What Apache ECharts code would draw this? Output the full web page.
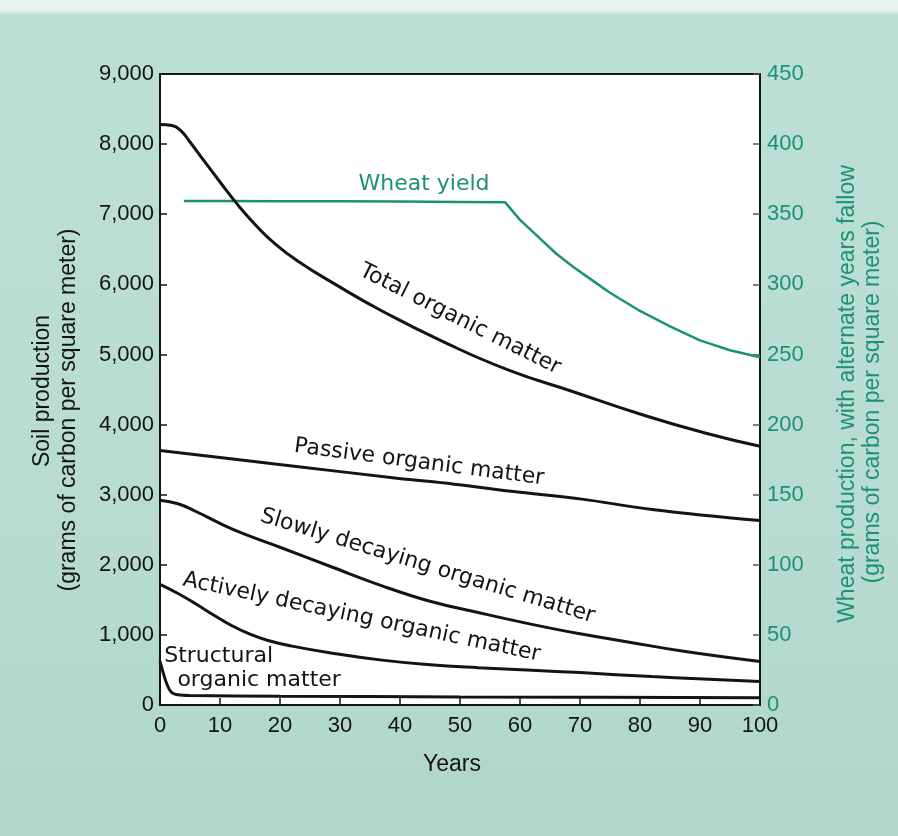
<!DOCTYPE html>
<html>
<head>
<meta charset="utf-8">
<script src="https://cdn.jsdelivr.net/npm/echarts@6/dist/echarts.min.js"></script>
<style>html,body{margin:0;padding:0;}#c{width:898px;height:836px;}</style>
</head>
<body>
<div id="c"></div>
<script>
// ---- data ----
const xTicks = [0,10,20,30,40,50,60,70,80,90,100];
const totalYears  = [0,2,3.5,5,7,10,13,16,19,23,30,37,47,58,69,80,91,100];
const totalValues = [8280,8265,8190,8030,7800,7460,7130,6840,6590,6330,5960,5620,5190,4780,4465,4150,3875,3690];
const passiveYears  = [0,10,22,39.5,49,60,70,82,100];
const passiveValues = [3630,3530,3410,3235,3150,3035,2940,2790,2630];
const slowYears  = [0,3,6,10,14,20,28,37,45,53,62,70,78,87,100];
const slowValues = [2920,2870,2760,2590,2440,2250,1990,1700,1480,1320,1150,1015,900,770,620];
const activeYears  = [0,3,6,9,12,15,18,22,28,37,45,53,62,70,82,100];
const activeValues = [1720,1590,1440,1280,1130,1010,920,840,750,640,575,533,496,462,405,335];
const structYears  = [0,0.5,1,1.5,2,3,5,20,50,100];
const structValues = [620,470,330,230,175,145,135,125,115,105];
const wheatYears  = [4,10,20,30,40,50,57.5,60,63,66,69,72,75,80,85,90,95,100];
const wheatValues = [359.5,359.5,359.3,359.2,359,358.8,358.6,346,334,322,312,303,294,281,270,260,253,248];

const GREEN = '#1d9270';
const INK = '#141414';
const pairs = (xs, ys) => xs.map((x, i) => [x, ys[i]]);

const chart = echarts.init(document.getElementById('c'), null, {renderer: 'canvas'});

const blackLine = (name, xs, ys, sm) => ({
  name, type: 'line', data: pairs(xs, ys), showSymbol: false, symbol: 'none',
  smooth: sm,
  lineStyle: {color: INK, width: 3}, z: 3
});

const option = {
  animation: false,
  backgroundColor: {
    type: 'linear', x: 0, y: 0, x2: 0, y2: 1,
    colorStops: [
      {offset: 0, color: '#eaf4f0'},
      {offset: 0.012, color: '#e6f2ee'},
      {offset: 0.018, color: '#bde0d6'},
      {offset: 0.6, color: '#b8dcd2'},
      {offset: 1, color: '#b0d6cc'}
    ]
  },
  grid: {
    left: 160, right: 138, top: 74, bottom: 131,
    show: true, backgroundColor: '#ffffff', borderColor: INK, borderWidth: 1.8
  },
  xAxis: {
    type: 'value', min: 0, max: 100, interval: 10,
    axisLine: {show: true, lineStyle: {color: INK, width: 1.8}},
    axisTick: {show: true, inside: true, length: 7, lineStyle: {color: INK, width: 1.5}},
    axisLabel: {fontSize: 22, color: INK, margin: 10, fontFamily: '"Liberation Sans", Arial, sans-serif',
      formatter: v => xTicks.includes(v) ? String(v) : ''},
    splitLine: {show: false},
    name: 'Years', nameLocation: 'middle', nameGap: 48,
    nameTextStyle: {fontSize: 23, color: INK, fontFamily: '"Liberation Sans", Arial, sans-serif', padding: [0, 16, 0, 0]}
  },
  yAxis: [
    {
      type: 'value', min: 0, max: 9000, interval: 1000, position: 'left',
      axisLine: {show: true, lineStyle: {color: INK, width: 1.8}},
      axisTick: {show: true, inside: true, length: 7, lineStyle: {color: INK, width: 1.5}},
      axisLabel: {fontSize: 22, color: INK, margin: 6, fontFamily: '"Liberation Sans", Arial, sans-serif',
        formatter: v => v.toLocaleString('en-US')},
      splitLine: {show: false}
    },
    {
      type: 'value', min: 0, max: 450, interval: 50, position: 'right',
      axisLine: {show: true, lineStyle: {color: INK, width: 1.8}},
      axisTick: {show: true, inside: true, length: 7, lineStyle: {color: '#555', width: 1.5}},
      axisLabel: {fontSize: 22, color: GREEN, margin: 7, fontFamily: '"Liberation Sans", Arial, sans-serif'},
      splitLine: {show: false}
    }
  ],
  series: [
    blackLine('Total organic matter', totalYears, totalValues, 0.5),
    blackLine('Passive organic matter', passiveYears, passiveValues, 0.4),
    blackLine('Slowly decaying organic matter', slowYears, slowValues, 0.45),
    blackLine('Actively decaying organic matter', activeYears, activeValues, 0.45),
    blackLine('Structural organic matter', structYears, structValues, 0.2),
    {
      name: 'Wheat yield', type: 'line', yAxisIndex: 1, data: pairs(wheatYears, wheatValues),
      showSymbol: false, symbol: 'none', smooth: false,
      lineStyle: {color: GREEN, width: 2.5}, z: 2
    }
  ]
};
chart.setOption(option);

// curve labels anchored in data coordinates (year, soil value)
const LBL = '22px "DejaVu Sans", sans-serif';
const curveLabels = [
  {text: 'Wheat yield', at: [44, 7430], rot: 0, color: GREEN, align: 'center'},
  {text: 'Total organic matter', at: [50, 5500], rot: -26.6, color: INK, align: 'center'},
  {text: 'Passive organic matter', at: [43.2, 3460], rot: -7.4, color: INK, align: 'center'},
  {text: 'Slowly decaying organic matter', at: [44.6, 1980], rot: -16.9, color: INK, align: 'center'},
  {text: 'Actively decaying organic matter', at: [33.6, 1250], rot: -11.9, color: INK, align: 'center'},
  {text: 'Structural', at: [0.7, 700], rot: 0, color: INK, align: 'left'},
  {text: 'organic matter', at: [2.9, 357], rot: 0, color: INK, align: 'left'}
];
const graphics = curveLabels.map(l => {
  const p = chart.convertToPixel({xAxisIndex: 0, yAxisIndex: 0}, l.at);
  return {
    type: 'text', x: p[0], y: p[1], rotation: l.rot * Math.PI / 180, z: 10,
    style: {text: l.text, fill: l.color, font: LBL, textAlign: l.align, textVerticalAlign: 'middle'}
  };
});
// axis titles (rotated)
const TTL = '23px "Liberation Sans", Arial, sans-serif';
const titles = [
  {text: 'Soil production', x: 43, y: 391, color: INK},
  {text: '(grams of carbon per square meter)', x: 69, y: 410, color: INK},
  {text: 'Wheat production, with alternate years fallow', x: 848, y: 394, color: GREEN},
  {text: '(grams of carbon per square meter)', x: 873, y: 402, color: GREEN}
];
titles.forEach(t => graphics.push({
  type: 'text', x: t.x, y: t.y, rotation: Math.PI / 2, z: 10,
  style: {text: t.text, fill: t.color, font: TTL, textAlign: 'center', textVerticalAlign: 'middle'}
}));
chart.setOption({graphic: graphics});
</script>
</body>
</html>
